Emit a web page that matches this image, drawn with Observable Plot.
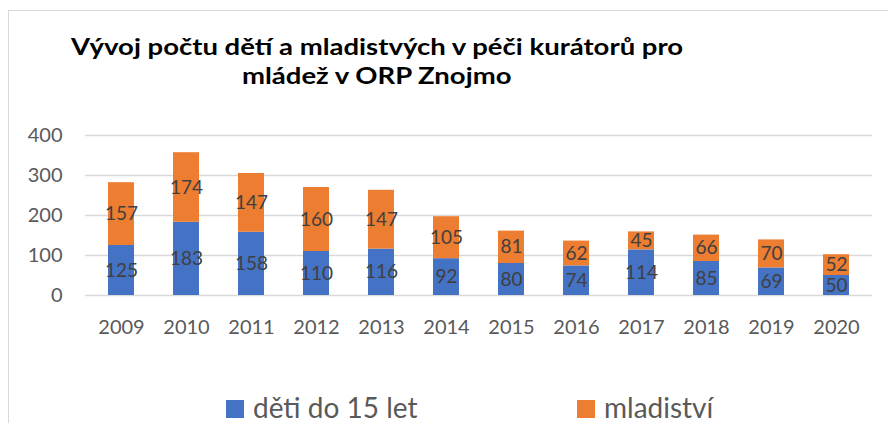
<!DOCTYPE html>
<html>
<head>
<meta charset="utf-8">
<script src="https://cdn.jsdelivr.net/npm/d3@7"></script>
<script src="https://cdn.jsdelivr.net/npm/@observablehq/plot@0.6"></script>
<style>
  html, body { margin: 0; padding: 0; background: #fff; }
  #wrap { position: relative; width: 888px; height: 423px; overflow: hidden; font-family: Lato, sans-serif; }
  #frame { position: absolute; left: 8px; top: 10px; width: 900px; height: 430px; border-top: 1.5px solid #d9d9d9; border-left: 1.5px solid #d9d9d9; box-sizing: border-box; }
  .title { position: absolute; left: 0; width: 754px; text-align: center; white-space: nowrap; line-height: 26px; }
  .title span { display: inline-block; font-weight: bold; font-size: 23px; color: #000; transform-origin: center; }
  #chart { position: absolute; left: 0; top: 100px; }
  .leg { position: absolute; top: 392px; display: flex; align-items: flex-start; color: #595959; font-size: 28px; line-height: 30px; white-space: nowrap; }
  .sw { width: 18px; height: 18px; margin-top: 8px; margin-right: 9px; }
</style>
</head>
<body>
<div id="wrap">
  <div id="frame"></div>
  <div class="title" style="top:33px"><span id="t1"></span></div>
  <div class="title" style="top:62px"><span id="t2"></span></div>
  <div id="chart"></div>
  <div id="legend"></div>
</div>
<script>
const titleLines = ["Vývoj počtu dětí a mladistvých v péči kurátorů pro", "mládež v ORP Znojmo"];
const years = ["2009","2010","2011","2012","2013","2014","2015","2016","2017","2018","2019","2020"];
const deti = [125, 183, 158, 110, 116, 92, 80, 74, 114, 85, 69, 50];
const mladistvi = [157, 174, 147, 160, 147, 105, 81, 62, 45, 66, 70, 52];
const seriesNames = ["děti do 15 let", "mladiství"];
const seriesColors = ["#4472C4", "#ED7D31"];
const yTicks = [0, 100, 200, 300, 400];

const t1 = document.getElementById("t1");
const t2 = document.getElementById("t2");
t1.textContent = titleLines[0];
t2.textContent = titleLines[1];
const titleScale = 612 / t1.getBoundingClientRect().width;
t1.style.transform = `scaleX(${titleScale})`;
t2.style.transform = `scaleX(${titleScale})`;

const data = years.flatMap((y, i) => [
  {year: y, series: seriesNames[0], value: deti[i]},
  {year: y, series: seriesNames[1], value: mladistvi[i]}
]);

const chart = Plot.plot({
  width: 888,
  height: 250,
  marginLeft: 85,
  marginRight: 16,
  marginTop: 35,
  marginBottom: 55,
  x: {domain: years, paddingInner: 0.6, paddingOuter: 0.3, label: null},
  y: {domain: [0, 400], label: null},
  color: {domain: seriesNames, range: seriesColors},
  style: {fontFamily: "Lato, sans-serif", fontSize: "20px", color: "#595959", background: "transparent"},
  marks: [
    Plot.ruleY(yTicks, {stroke: "#d9d9d9", strokeWidth: 1.5}),
    Plot.barY(data, {x: "year", y: "value", fill: "series"}),
    Plot.text(data, Plot.stackY({x: "year", y: "value", z: "series", text: d => String(d.value), fill: "#404040", fontSize: 19})),
    Plot.axisY({ticks: yTicks, tickSize: 0, tickPadding: 23, fontSize: 20, label: null}),
    Plot.axisX({tickSize: 0, tickPadding: 24, fontSize: 20, label: null})
  ]
});
document.getElementById("chart").appendChild(chart);

const legendPos = [226, 577];
const legend = document.getElementById("legend");
seriesNames.forEach((name, i) => {
  const item = document.createElement("div");
  item.className = "leg";
  item.style.left = legendPos[i] + "px";
  const sw = document.createElement("div");
  sw.className = "sw";
  sw.style.background = seriesColors[i];
  const lab = document.createElement("span");
  lab.textContent = name;
  item.appendChild(sw);
  item.appendChild(lab);
  legend.appendChild(item);
});
</script>
</body>
</html>
